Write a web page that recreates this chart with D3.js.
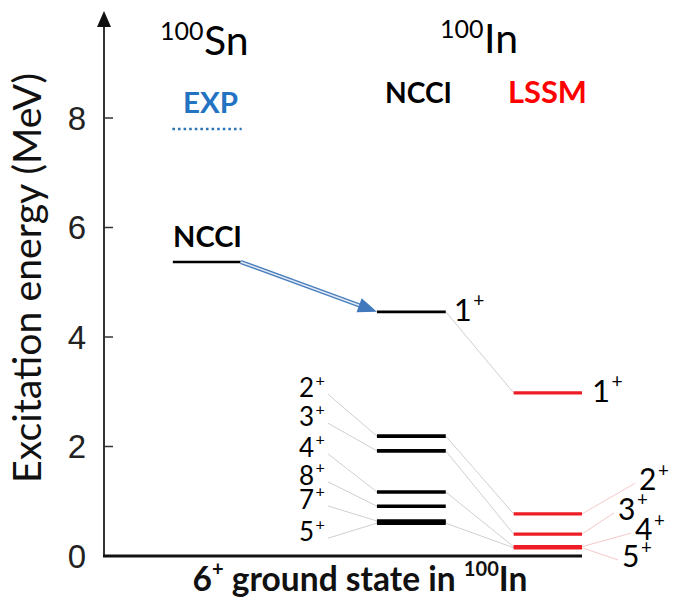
<!DOCTYPE html>
<html><head><meta charset="utf-8">
<script src="https://cdn.jsdelivr.net/npm/d3@7"></script>
<style>html,body{margin:0;padding:0;background:#fff;}svg{display:block;}</style>
</head><body>
<script>
// ---------- data ----------
const yTicks = [0, 2, 4, 6, 8];
const snExpEnergy = [7.8];
const snNcciEnergy = [5.37];
const inNcciSpins = ["1", "2", "3", "4", "8", "7", "5"];
const inNcciEnergies = [4.46, 2.19, 1.92, 1.17, 0.91, 0.64, 0.60];
const inLssmSpins = ["1", "2", "3", "4", "5"];
const inLssmEnergies = [2.98, 0.77, 0.40, 0.17, 0.15];
// label anchor energies (baseline), for crowded spin labels
const ncciLabelEnergies = [2.90, 2.37, 1.81, 1.30, 0.86, 0.27];   // 2+,3+,4+,8+,7+,5+
const lssmLabelEnergies = [1.20, 0.66, 0.29, -0.20];              // 2+,3+,4+,5+
// NCCI -> LSSM connections (by spin)
const links = ["1", "2", "3", "4", "5"];

const W = 680, H = 605;
const svg = d3.select("body").append("svg").attr("width", W).attr("height", H);

const y = d3.scaleLinear().domain([0, 8]).range([556, 118]);
const x = d3.scaleLinear().domain([0, 1]).range([104, 582]);
// column left edges/widths in x units
const col = d3.scaleOrdinal().domain(["snExp", "snNcci", "inNcci", "inLssm"])
  .range([[0.143, 0.288], [0.144, 0.286], [0.571, 0.715], [0.857, 1.0]]);
const L = c => x(col(c)[0]), R = c => x(col(c)[1]);
// horizontal offsets of the staggered LSSM spin labels (px right of the level end)
const lssmLabelDx = [57, 36, 53, 40];

const LATO = "Lato, 'Open Sans', sans-serif";
function fitWidth(sel, w) {
  const cur = sel.node().getComputedTextLength();
  const fs = parseFloat(sel.attr("font-size"));
  sel.attr("font-size", fs * w / cur);
  return sel;
}
function spinLabel(g, spin, xx, yy, fs) {
  const t = g.append("text").attr("x", xx).attr("y", yy)
    .attr("font-family", LATO).attr("font-size", fs).attr("fill", "#000");
  t.append("tspan").text(spin);
  t.append("tspan").attr("font-size", "0.62em").attr("dy", "-0.72em").attr("dx", "0.08em").text("+");
  return t;
}

// ---------- axes ----------
const ax = svg.append("g");
ax.append("line").attr("x1", x(0)).attr("x2", x(0)).attr("y1", y(0)).attr("y2", 24)
  .attr("stroke", "#333").attr("stroke-width", 2);
ax.append("path").attr("d", d3.line()([[x(0) - 7, 27], [x(0), 11], [x(0) + 7, 27]]) + "Z").attr("fill", "#111");
ax.append("line").attr("x1", x(0) - 1).attr("x2", x(1)).attr("y1", y(0)).attr("y2", y(0))
  .attr("stroke", "#111").attr("stroke-width", 3);
ax.selectAll(".tk").data(yTicks.filter(d => d > 0)).join("line")
  .attr("x1", x(0)).attr("x2", x(0) + 9).attr("y1", d => y(d)).attr("y2", d => y(d))
  .attr("stroke", "#333").attr("stroke-width", 1.5);
ax.selectAll(".tl").data(yTicks).join("text")
  .attr("x", 86).attr("y", d => y(d)).attr("dy", "0.36em").attr("text-anchor", "end")
  .attr("font-family", "'Liberation Sans', Arial, sans-serif").attr("font-size", 33).attr("fill", "#222")
  .text(d => d);
const yl = svg.append("text").attr("transform", `translate(41,${(73 + 483) / 2}) rotate(-90)`)
  .attr("text-anchor", "middle").attr("font-family", LATO).attr("font-size", 36).attr("fill", "#111")
  .text("Excitation energy (MeV)");
fitWidth(yl, 410);

// bottom label
const bl = svg.append("text").attr("x", 360).attr("y", 591).attr("text-anchor", "middle")
  .attr("font-family", LATO).attr("font-weight", 700).attr("font-size", 24).attr("fill", "#111");
bl.append("tspan").text("6");
bl.append("tspan").attr("font-size", "0.6em").attr("dy", "-0.75em").text("+");
bl.append("tspan").attr("dy", "0.45em").text(" ground state in ");
bl.append("tspan").attr("font-size", "0.6em").attr("dy", "-0.75em").text("100");
bl.append("tspan").attr("dy", "0.45em").text("In");
fitWidth(bl, 335);

// ---------- headers ----------
function nuc(xx, base, mass, sym, symX) {
  svg.append("text").attr("x", xx).attr("y", base - 15).attr("font-family", LATO).attr("font-size", 25).attr("fill", "#000").text(mass);
  svg.append("text").attr("x", symX).attr("y", base).attr("font-family", LATO).attr("font-size", 41).attr("fill", "#000").text(sym);
}
nuc(160, 55, "100", "Sn", 204);
nuc(440, 53, "100", "In", 484);
function bold(txt, xx, base, w, color) {
  const t = svg.append("text").attr("x", xx).attr("y", base).attr("font-family", LATO)
    .attr("font-weight", 700).attr("font-size", 26).attr("fill", color).text(txt);
  fitWidth(t, w);
}
bold("EXP", 183, 113, 55, "#2473c2");
bold("NCCI", 385, 103, 67, "#000");
bold("LSSM", 508, 103, 79, "#ff0000");
bold("NCCI", 173, 247, 69, "#000");

// ---------- 100Sn levels ----------
svg.selectAll(".exp").data(snExpEnergy).join("line")
  .attr("x1", L("snExp")).attr("x2", R("snExp")).attr("y1", d => y(d)).attr("y2", d => y(d))
  .attr("stroke", "#2e75b6").attr("stroke-width", 2.5).attr("stroke-dasharray", "2.6,3");
svg.selectAll(".snn").data(snNcciEnergy).join("line")
  .attr("x1", L("snNcci")).attr("x2", R("snNcci")).attr("y1", d => y(d)).attr("y2", d => y(d))
  .attr("stroke", "#000").attr("stroke-width", 2.5);

// arrow from Sn NCCI to In NCCI 1+
{
  const x0 = R("snNcci"), y0 = y(snNcciEnergy[0]);
  const x1 = L("inNcci"), y1 = y(inNcciEnergies[0]);
  const dx = x1 - x0, dy = y1 - y0, len = Math.hypot(dx, dy);
  const ux = dx / len, uy = dy / len, hl = 19, hw = 7.5;
  const bx = x1 - ux * hl, by = y1 - uy * hl;
  svg.append("line").attr("x1", x0).attr("y1", y0).attr("x2", bx + ux * 2).attr("y2", by + uy * 2)
    .attr("stroke", "#4a7ebb").attr("stroke-width", 4.2);
  svg.append("line").attr("x1", x0).attr("y1", y0).attr("x2", bx + ux * 2).attr("y2", by + uy * 2)
    .attr("stroke", "#e3ebf6").attr("stroke-width", 1.4);
  svg.append("path").attr("d", d3.line()([[x1, y1], [bx - uy * hw, by + ux * hw], [bx + uy * hw, by - ux * hw]]) + "Z")
    .attr("fill", "#4279bd");
}

// ---------- connectors ----------
const ncciMap = new Map(inNcciSpins.map((s, i) => [s, inNcciEnergies[i]]));
const lssmMap = new Map(inLssmSpins.map((s, i) => [s, inLssmEnergies[i]]));
svg.selectAll(".lnk").data(links).join("line")
  .attr("x1", R("inNcci")).attr("y1", s => y(ncciMap.get(s)))
  .attr("x2", L("inLssm")).attr("y2", s => y(lssmMap.get(s)))
  .attr("stroke", "#cfcfcf").attr("stroke-width", 1);

// NCCI spin labels (left) with leaders
const lowNcci = inNcciSpins.slice(1).map((s, i) => ({ s, e: inNcciEnergies[i + 1], le: ncciLabelEnergies[i] }));
const gl = svg.append("g");
lowNcci.forEach(d => {
  gl.append("line").attr("x1", 328).attr("y1", y(d.le) - 3).attr("x2", L("inNcci")).attr("y2", y(d.e))
    .attr("stroke", "#d0d0d0").attr("stroke-width", 1);
  spinLabel(gl, d.s, 299, y(d.le), 26);
});

// LSSM spin labels (right) with leaders
const lowLssm = inLssmSpins.slice(1).map((s, i) => ({ s, e: inLssmEnergies[i + 1], le: lssmLabelEnergies[i], dx: lssmLabelDx[i] }));
lowLssm.forEach(d => {
  const lx = R("inLssm") + d.dx;
  gl.append("line").attr("x1", R("inLssm")).attr("y1", y(d.e)).attr("x2", lx - 4).attr("y2", y(d.le) - 7)
    .attr("stroke", "#f5c9c9").attr("stroke-width", 1);
  spinLabel(gl, d.s, lx, y(d.le), 30);
});

// ---------- level lines ----------
svg.selectAll(".ncci").data(inNcciEnergies).join("line")
  .attr("x1", L("inNcci")).attr("x2", R("inNcci")).attr("y1", d => y(d)).attr("y2", d => y(d))
  .attr("stroke", "#000").attr("stroke-width", (d, i) => i === 0 ? 2.8 : 3.6);
svg.selectAll(".lssm").data(inLssmEnergies).join("line")
  .attr("x1", L("inLssm")).attr("x2", R("inLssm")).attr("y1", d => y(d)).attr("y2", d => y(d))
  .attr("stroke", "#ee1c24").attr("stroke-width", 3.2);

// 1+ labels
spinLabel(svg, inNcciSpins[0], R("inNcci") + 8, y(inNcciEnergies[0]) + 9, 31);
spinLabel(svg, inLssmSpins[0], R("inLssm") + 10, y(inLssmEnergies[0]) + 9, 31);
</script>
</body></html>
